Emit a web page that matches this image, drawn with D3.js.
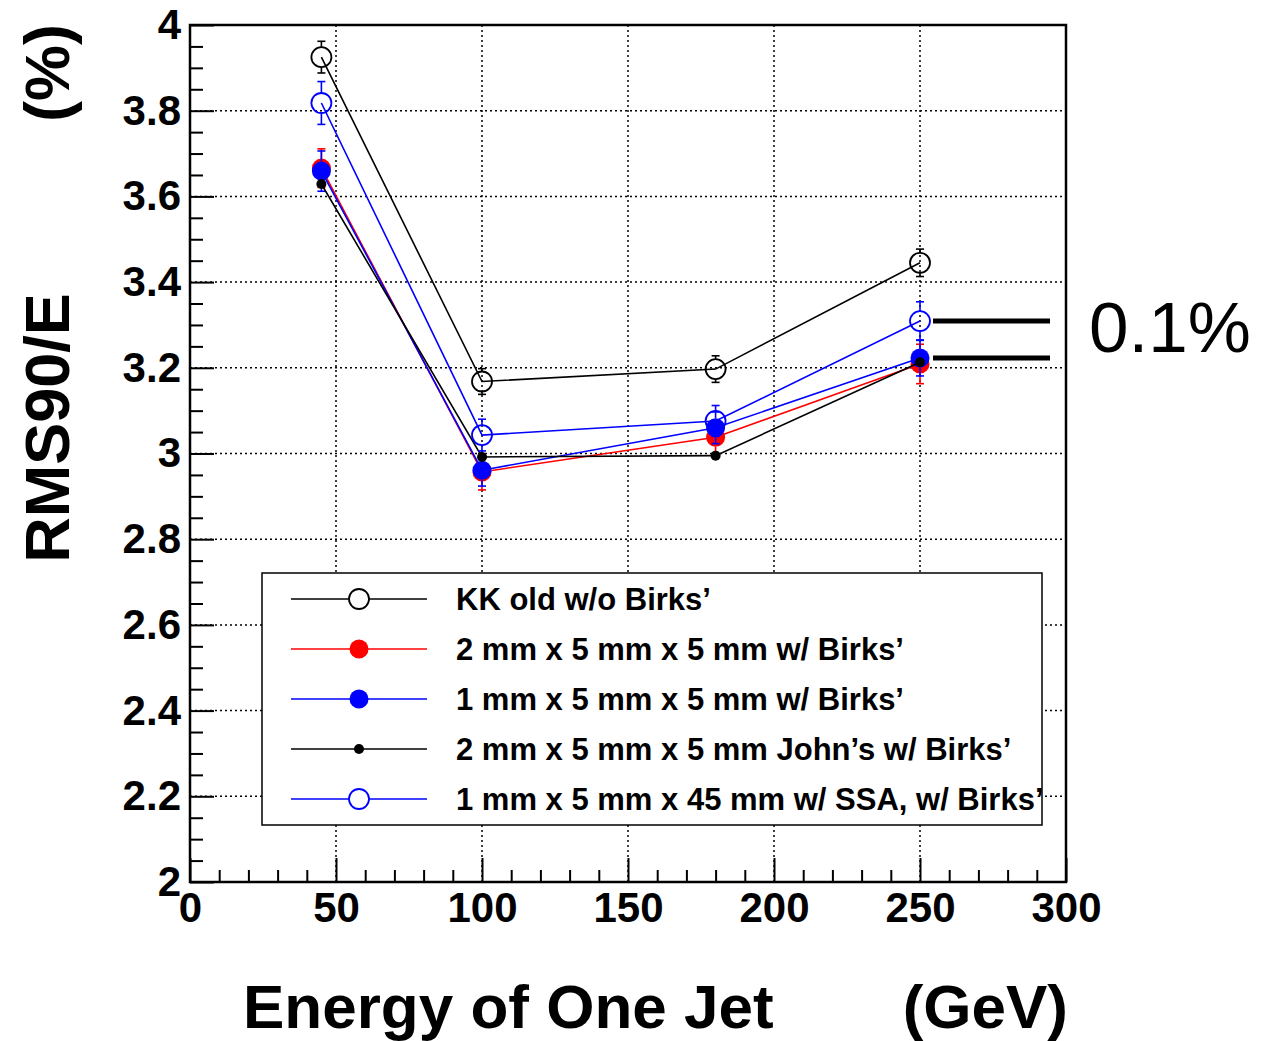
<!DOCTYPE html>
<html>
<head>
<meta charset="utf-8">
<script src="https://cdn.jsdelivr.net/npm/d3@7"></script>
<style>
  body { margin: 0; background: #fff; }
  text { font-family: 'Liberation Sans', Arial, Helvetica, sans-serif; }
</style>
</head>
<body>
<svg width="1261" height="1041"></svg>
<script>
// energies of one jet (GeV)
const energies = [45, 100, 180, 250];

// RMS90/E (%) and errors for each configuration
const kkOld = [3.925, 3.168, 3.197, 3.445];
const kkOldErr = [0.037, 0.030, 0.031, 0.032];

const twoMm = [3.666, 2.957, 3.038, 3.209];
const twoMmErr = [0.045, 0.042, 0.040, 0.046];

const oneMm = [3.659, 2.961, 3.060, 3.223];
const oneMmErr = [0.047, 0.037, 0.037, 0.042];

const johns = [3.629, 2.992, 2.995, 3.213];
const johnsErr = [0.010, 0.010, 0.010, 0.010];

const ssa = [3.818, 3.043, 3.076, 3.309];
const ssaErr = [0.050, 0.037, 0.036, 0.045];

const legendLabels = [
  'KK old w/o Birks’',
  '2 mm x 5 mm x 5 mm w/ Birks’',
  '1 mm x 5 mm x 5 mm w/ Birks’',
  '2 mm x 5 mm x 5 mm John’s w/ Birks’',
  '1 mm x 5 mm x 45 mm w/ SSA, w/ Birks’'
];

const xTickValues = [0, 50, 100, 150, 200, 250, 300];
const yTickValues = [2, 2.2, 2.4, 2.6, 2.8, 3, 3.2, 3.4, 3.6, 3.8, 4];

const svg = d3.select('svg');
const width = +svg.attr('width');
const height = +svg.attr('height');

const margin = {top: 25, right: 195, bottom: 159, left: 190};
const innerWidth = width - margin.left - margin.right;
const innerHeight = height - margin.top - margin.bottom;

const xScale = d3.scaleLinear().domain([0, 300]).range([0, innerWidth]);
const yScale = d3.scaleLinear().domain([2, 4]).range([innerHeight, 0]);

// style per series, in ROOT drawing order
const series = [
  {values: kkOld, errors: kkOldErr, color: '#000', marker: 'open', r: 10},
  {values: twoMm, errors: twoMmErr, color: '#ff0000', marker: 'full', r: 9.5},
  {values: oneMm, errors: oneMmErr, color: '#0000ff', marker: 'full', r: 9.5},
  {values: johns, errors: johnsErr, color: '#000', marker: 'full', r: 5},
  {values: ssa, errors: ssaErr, color: '#0000ff', marker: 'open', r: 10}
];

const g = svg.append('g')
  .attr('transform', `translate(${margin.left}, ${margin.top})`);

// dotted grid at the major ticks
g.append('g').selectAll('line').data(xTickValues.slice(1, -1))
  .enter().append('line')
    .attr('x1', d => xScale(d)).attr('x2', d => xScale(d))
    .attr('y1', 0).attr('y2', innerHeight)
    .attr('stroke', '#000').attr('stroke-width', 1.5)
    .attr('stroke-dasharray', '2,3');

g.append('g').selectAll('line').data(yTickValues.slice(1, -1))
  .enter().append('line')
    .attr('y1', d => yScale(d)).attr('y2', d => yScale(d))
    .attr('x1', 0).attr('x2', innerWidth)
    .attr('stroke', '#000').attr('stroke-width', 1.5)
    .attr('stroke-dasharray', '2,3');

// y axis: major ticks with labels, minor ticks every 0.05
const yAxisG = g.append('g')
  .call(d3.axisLeft(yScale)
    .tickValues(yTickValues)
    .tickSize(-24)
    .tickPadding(9)
    .tickFormat(d => String(+d.toFixed(1))));
yAxisG.select('.domain').remove();

g.append('g')
  .call(d3.axisLeft(yScale)
    .tickValues(d3.range(40).map(i => 2 + i * 0.05).filter((d, i) => i % 4 !== 0))
    .tickSize(-13)
    .tickFormat(''))
  .select('.domain').remove();

// x axis: major every 50, minor every 10
const xAxisG = g.append('g')
  .attr('transform', `translate(0, ${innerHeight})`)
  .call(d3.axisBottom(xScale)
    .tickValues(xTickValues)
    .tickSize(-24)
    .tickPadding(10));
xAxisG.select('.domain').remove();

g.append('g')
  .attr('transform', `translate(0, ${innerHeight})`)
  .call(d3.axisBottom(xScale)
    .tickValues(d3.range(0, 300, 10).filter(d => d % 50 !== 0))
    .tickSize(-12)
    .tickFormat(''))
  .select('.domain').remove();

g.selectAll('.tick line').attr('stroke', '#000').attr('stroke-width', 2);
g.selectAll('.tick text')
  .attr('fill', '#000')
  .attr('font-size', 42)
  .attr('font-weight', 'bold');

// frame
g.append('rect')
  .attr('width', innerWidth)
  .attr('height', innerHeight)
  .attr('fill', 'none')
  .attr('stroke', '#000')
  .attr('stroke-width', 2.5);

// graphs
const line = d3.line()
  .x((d, i) => xScale(energies[i]))
  .y(d => yScale(d));

series.forEach(s => {
  const sg = g.append('g');

  sg.append('path')
    .datum(s.values)
    .attr('d', line)
    .attr('fill', 'none')
    .attr('stroke', s.color)
    .attr('stroke-width', 1.6);

  // error bars outside the marker, with small caps
  s.values.forEach((v, i) => {
    const x = xScale(energies[i]);
    const yc = yScale(v);
    const yTop = yScale(v + s.errors[i]);
    const yBot = yScale(v - s.errors[i]);
    if (yc - yTop > s.r) {
      sg.append('line').attr('x1', x).attr('x2', x)
        .attr('y1', yTop).attr('y2', yc - s.r)
        .attr('stroke', s.color).attr('stroke-width', 1.6);
      sg.append('line').attr('x1', x - 4).attr('x2', x + 4)
        .attr('y1', yTop).attr('y2', yTop)
        .attr('stroke', s.color).attr('stroke-width', 1.6);
    }
    if (yBot - yc > s.r) {
      sg.append('line').attr('x1', x).attr('x2', x)
        .attr('y1', yc + s.r).attr('y2', yBot)
        .attr('stroke', s.color).attr('stroke-width', 1.6);
      sg.append('line').attr('x1', x - 4).attr('x2', x + 4)
        .attr('y1', yBot).attr('y2', yBot)
        .attr('stroke', s.color).attr('stroke-width', 1.6);
    }
  });

  sg.selectAll('circle').data(s.values)
    .enter().append('circle')
      .attr('cx', (d, i) => xScale(energies[i]))
      .attr('cy', d => yScale(d))
      .attr('r', s.r)
      .attr('fill', s.marker === 'open' ? 'none' : s.color)
      .attr('stroke', s.color)
      .attr('stroke-width', s.marker === 'open' ? 1.8 : 0);
});

// legend box
const legend = svg.append('g').attr('transform', 'translate(262, 573)');
legend.append('rect')
  .attr('width', 780)
  .attr('height', 252)
  .attr('fill', '#fff')
  .attr('stroke', '#000')
  .attr('stroke-width', 1.5);

series.forEach((s, i) => {
  const row = legend.append('g').attr('transform', `translate(0, ${26 + i * 50})`);
  row.append('line')
    .attr('x1', 29).attr('x2', 165)
    .attr('stroke', s.color).attr('stroke-width', 1.6);
  row.append('circle')
    .attr('cx', 97).attr('r', s.r)
    .attr('fill', s.marker === 'open' ? '#fff' : s.color)
    .attr('stroke', s.color)
    .attr('stroke-width', s.marker === 'open' ? 1.8 : 0);
  row.append('text')
    .attr('x', 194)
    .attr('y', 11)
    .attr('font-size', 31)
    .attr('font-weight', 'bold')
    .text(legendLabels[i]);
});

// axis titles
svg.append('text')
  .attr('x', 243)
  .attr('y', 1028)
  .attr('font-size', 62)
  .attr('font-weight', 'bold')
  .text('Energy of One Jet');

svg.append('text')
  .attr('x', margin.left + innerWidth + 2)
  .attr('y', 1028)
  .attr('text-anchor', 'end')
  .attr('font-size', 62)
  .attr('font-weight', 'bold')
  .text('(GeV)');

svg.append('text')
  .attr('transform', 'translate(69, 428) rotate(-90)')
  .attr('text-anchor', 'middle')
  .attr('font-size', 63)
  .attr('font-weight', 'bold')
  .text('RMS90/E');

svg.append('text')
  .attr('transform', 'translate(69, 24) rotate(-90)')
  .attr('text-anchor', 'end')
  .attr('font-size', 63)
  .attr('font-weight', 'bold')
  .text('(%)');

// 0.1% annotation between the two 250 GeV points
const note = svg.append('g').attr('transform', `translate(${margin.left}, ${margin.top})`);
[ssa[3], oneMm[3]].forEach(v => {
  note.append('line')
    .attr('x1', xScale(250) + 13)
    .attr('x2', xScale(250) + 130)
    .attr('y1', yScale(v))
    .attr('y2', yScale(v))
    .attr('stroke', '#000')
    .attr('stroke-width', 5);
});

svg.append('text')
  .attr('x', 1089)
  .attr('y', 352)
  .attr('font-size', 71)
  .text('0.1%');
</script>
</body>
</html>
